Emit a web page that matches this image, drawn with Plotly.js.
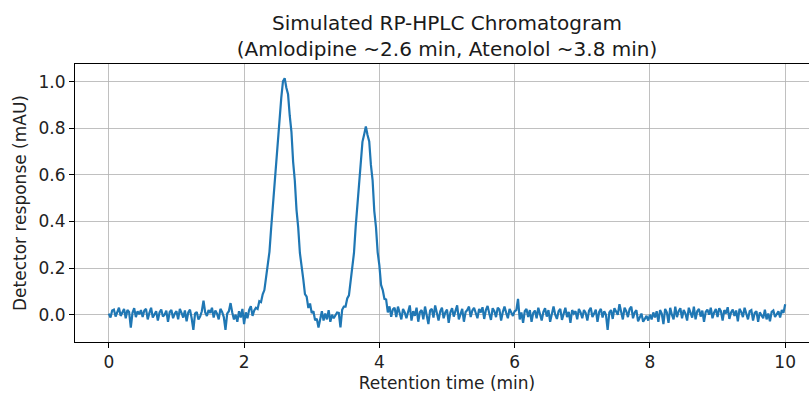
<!DOCTYPE html>
<html>
<head>
<meta charset="utf-8">
<script src="https://cdn.plot.ly/plotly-3.0.1.min.js"></script>
<style>
  html, body { margin: 0; padding: 0; background: #fff; overflow: hidden; width: 809px; height: 394px; }
  #chart { width: 830px; height: 394px; }
</style>
</head>
<body>
<div id="chart"></div>
<script>
// Retention time sampling (minutes)
const timeStart = 0;
const timeStep = 0.025;

// Detector response (mAU), one value per sample
const response = [
  0.005, -0.012, 0.018, 0.022, -0.008, 0.015, 0.030, -0.005, 0.010, 0.025, -0.015, 0.020, 0.012, -0.055, 0.008, 0.028, -0.010, 0.015, 0.002, 0.020,
  -0.010, 0.018, 0.025, -0.020, 0.008, 0.030, -0.012, 0.005, 0.015, -0.025, 0.010, 0.022, -0.008, 0.000, 0.018, -0.030, 0.012, 0.020, -0.015, 0.005,
  0.015, -0.020, 0.025, 0.008, -0.012, 0.018, -0.028, 0.010, 0.022, -0.015, -0.065, 0.005, 0.012, -0.020, -0.008, 0.015, 0.060, 0.010, -0.005, 0.020,
  0.008, 0.030, -0.012, 0.018, 0.005, -0.020, 0.025, 0.012, -0.010, -0.065, 0.005, 0.015, 0.050, 0.010, -0.020, 0.000, -0.030, 0.015, -0.012, 0.025,
  -0.040, 0.010, -0.015, 0.021, 0.037, -0.005, 0.018, 0.030, 0.025, 0.058, 0.054, 0.088, 0.106, 0.160, 0.211, 0.270, 0.372, 0.468, 0.555, 0.686,
  0.780, 0.878, 0.932, 1.002, 1.015, 0.974, 0.946, 0.854, 0.785, 0.656, 0.575, 0.450, 0.375, 0.265, 0.215, 0.153, 0.089, 0.078, 0.029, 0.048,
  0.007, 0.015, -0.024, -0.017, -0.055, -0.010, 0.015, -0.025, 0.005, -0.020, 0.020, -0.030, 0.000, -0.015, -0.005, 0.010, 0.008, -0.054, 0.021, 0.035,
  0.035, 0.070, 0.083, 0.148, 0.215, 0.266, 0.378, 0.470, 0.557, 0.668, 0.742, 0.773, 0.808, 0.771, 0.744, 0.643, 0.577, 0.445, 0.376, 0.268,
  0.212, 0.128, 0.106, 0.068, 0.065, 0.010, 0.036, -0.009, 0.023, 0.030, -0.010, 0.035, 0.005, -0.020, 0.025, 0.010, -0.015, 0.020, 0.040, -0.025,
  0.015, -0.005, 0.030, -0.030, 0.012, 0.020, -0.020, 0.035, 0.000, -0.040, 0.018, 0.025, -0.012, 0.040, 0.008, -0.025, 0.015, 0.030, -0.015, 0.010,
  0.022, -0.035, 0.010, 0.028, -0.008, 0.015, 0.040, -0.020, 0.005, 0.025, -0.030, 0.012, 0.020, 0.035, -0.010, 0.018, 0.030, 0.005, -0.015, 0.025,
  0.010, 0.032, -0.018, 0.020, 0.038, 0.005, -0.022, 0.028, 0.015, -0.010, 0.030, 0.022, -0.025, 0.012, 0.035, 0.008, -0.015, 0.025, 0.010, -0.005,
  0.015, 0.020, 0.068, -0.020, 0.010, -0.035, 0.015, 0.025, -0.010, 0.020, -0.030, 0.008, 0.018, -0.015, 0.030, 0.005, -0.025, 0.012, 0.028, -0.008,
  0.020, -0.030, 0.010, 0.035, 0.000, -0.018, 0.015, 0.025, -0.022, 0.008, 0.030, -0.010, 0.012, -0.035, 0.020, 0.005, 0.015, -0.020, 0.025, 0.010,
  -0.015, 0.020, 0.008, -0.025, 0.018, 0.030, -0.010, 0.005, 0.022, -0.030, 0.012, 0.025, -0.012, 0.015, 0.000, -0.065, 0.010, 0.020, -0.018, 0.028,
  0.010, 0.000, 0.045, 0.012, -0.020, 0.030, 0.015, -0.010, 0.025, 0.035, -0.015, 0.010, 0.020, -0.028, -0.010, 0.005, -0.030, -0.015, -0.005, -0.025,
  0.000, -0.020, 0.010, -0.012, 0.015, -0.030, 0.020, 0.005, -0.040, 0.025, 0.010, -0.035, 0.030, 0.000, -0.020, 0.035, -0.010, 0.015, 0.028, -0.015,
  0.020, 0.005, -0.025, 0.030, 0.010, -0.012, 0.035, -0.020, 0.015, 0.025, -0.008, 0.018, -0.030, 0.012, 0.022, 0.000, 0.030, -0.015, 0.010, 0.025,
  -0.010, 0.028, 0.015, -0.025, 0.020, 0.005, 0.032, -0.018, 0.010, 0.022, -0.005, 0.018, -0.028, 0.025, 0.012, -0.010, 0.030, 0.000, -0.020, 0.015,
  0.020, -0.025, 0.008, 0.015, -0.030, 0.010, 0.000, -0.015, 0.022, -0.020, 0.005, -0.028, 0.012, 0.018, -0.010, 0.000, 0.015, -0.012, 0.020, 0.008,
  0.045
];

const xTicks = [0, 2, 4, 6, 8, 10];
const xTickLabels = ['0', '2', '4', '6', '8', '10'];
const yTicks = [0.0, 0.2, 0.4, 0.6, 0.8, 1.0];
const yTickLabels = ['0.0', '0.2', '0.4', '0.6', '0.8', '1.0'];

const chartTitle = 'Simulated RP-HPLC Chromatogram<br>(Amlodipine ~2.6 min, Atenolol ~3.8 min)';
const xLabel = 'Retention time (min)';
const yLabel = 'Detector response (mAU)';

const font = 'DejaVu Sans, sans-serif';

const trace = {
  type: 'scatter',
  mode: 'lines',
  x0: timeStart,
  dx: timeStep,
  y: response,
  line: { color: '#1f77b4', width: 2.2 },
  hoverinfo: 'skip'
};

const layout = {
  width: 830,
  height: 394,
  margin: { l: 75, r: 11, t: 64, b: 52 },
  paper_bgcolor: '#ffffff',
  plot_bgcolor: '#ffffff',
  showlegend: false,
  font: { family: font, color: '#000000', size: 17 },
  title: {
    text: chartTitle,
    font: { family: font, size: 20, color: '#1a1a1a' },
    x: 0.5,
    xref: 'paper',
    xanchor: 'center',
    y: 0.925,
    yref: 'container',
    yanchor: 'top'
  },
  xaxis: {
    range: [-0.5, 10.5],
    tickvals: xTicks,
    ticktext: xTickLabels,
    ticks: 'outside',
    ticklen: 5,
    tickwidth: 1,
    tickcolor: '#000000',
    showline: true,
    linecolor: '#000000',
    linewidth: 1,
    mirror: true,
    showgrid: true,
    gridcolor: '#b0b0b0',
    gridwidth: 0.8,
    zeroline: false,
    tickfont: { family: font, size: 17, color: '#222222' },
    title: { text: xLabel, font: { family: font, size: 17, color: '#222222' }, standoff: 5 }
  },
  yaxis: {
    range: [-0.117, 1.076],
    tickvals: yTicks,
    ticktext: yTickLabels,
    ticks: 'outside',
    ticklen: 5,
    tickwidth: 1,
    tickcolor: '#000000',
    showline: true,
    linecolor: '#000000',
    linewidth: 1,
    mirror: true,
    showgrid: true,
    gridcolor: '#b0b0b0',
    gridwidth: 0.8,
    zeroline: false,
    tickfont: { family: font, size: 17, color: '#222222' },
    title: { text: yLabel, font: { family: font, size: 17, color: '#222222' }, standoff: 7 }
  }
};

Plotly.newPlot('chart', [trace], layout, { displayModeBar: false, staticPlot: true });
</script>
</body>
</html>
